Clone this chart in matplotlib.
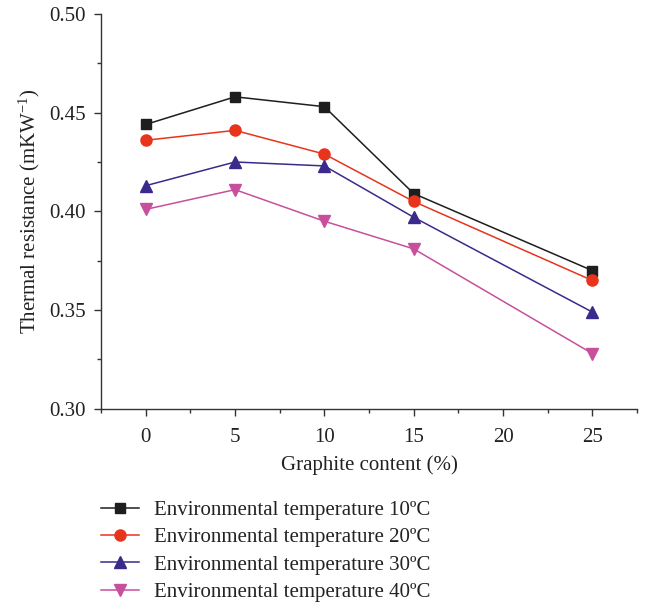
import matplotlib
matplotlib.use('Agg')
import matplotlib.pyplot as plt
from matplotlib.ticker import MultipleLocator, FormatStrFormatter

plt.rcParams['font.family'] = ['Liberation Serif', 'DejaVu Serif']
plt.rcParams['mathtext.fontset'] = 'custom'
plt.rcParams['mathtext.rm'] = 'Liberation Serif'
plt.rcParams['mathtext.it'] = 'Liberation Serif:italic'

# data
graphite = [0, 5, 10, 15, 25]
temp_10 = [0.444, 0.458, 0.453, 0.409, 0.370]
temp_20 = [0.436, 0.441, 0.429, 0.405, 0.365]
temp_30 = [0.413, 0.425, 0.423, 0.397, 0.349]
temp_40 = [0.401, 0.411, 0.395, 0.381, 0.328]
labels = ['Environmental temperature 10ºC', 'Environmental temperature 20ºC',
          'Environmental temperature 30ºC', 'Environmental temperature 40ºC']

fig = plt.figure(figsize=(6.48, 6.03), dpi=100)
ax = fig.add_axes([0.156, 0.322, 0.827, 0.655])

ax.plot(graphite, temp_10, color='#1e1e1e', marker='s', ms=7.5, lw=1.1, label=labels[0])
ax.plot(graphite, temp_20, color='#e8341c', marker='o', ms=8, lw=1.1, label=labels[1])
ax.plot(graphite, temp_30, color='#3b2a8c', marker='^', ms=8.5, lw=1.1, label=labels[2])
ax.plot(graphite, temp_40, color='#c84f9c', marker='v', ms=8.5, lw=1.1, label=labels[3])

ax.set_xlim(-2.5, 27.5)
ax.set_ylim(0.30, 0.50)
ax.xaxis.set_major_locator(MultipleLocator(5))
ax.xaxis.set_minor_locator(MultipleLocator(2.5))
ax.yaxis.set_major_locator(MultipleLocator(0.05))
ax.yaxis.set_minor_locator(MultipleLocator(0.025))
ax.yaxis.set_major_formatter(FormatStrFormatter('%.2f'))

ax.spines['top'].set_visible(False)
ax.spines['right'].set_visible(False)
for s in ['left', 'bottom']:
    ax.spines[s].set_color('#333333')
    ax.spines[s].set_linewidth(1.0)
ax.tick_params(which='major', direction='out', length=5, width=1, colors='#333333', labelsize=15, labelcolor='#222222')
ax.tick_params(axis='x', which='major', pad=9)
ax.tick_params(axis='y', which='major', pad=6)
ax.tick_params(which='minor', direction='out', length=3, width=1, colors='#333333')

ax.set_xlabel('Graphite content (%)', fontsize=15, color='#222222', labelpad=6)
ax.set_ylabel('Thermal resistance (mKW$^{-1}$)', fontsize=15, color='#222222', labelpad=5)

ax.legend(loc='upper left', bbox_to_anchor=(0.156, 0.170), bbox_transform=fig.transFigure,
          frameon=False, fontsize=15, handlelength=1.8, handletextpad=0.75,
          labelspacing=0.37, borderaxespad=0, borderpad=0, labelcolor='#222222')

fig.savefig('out.png', dpi=100)
